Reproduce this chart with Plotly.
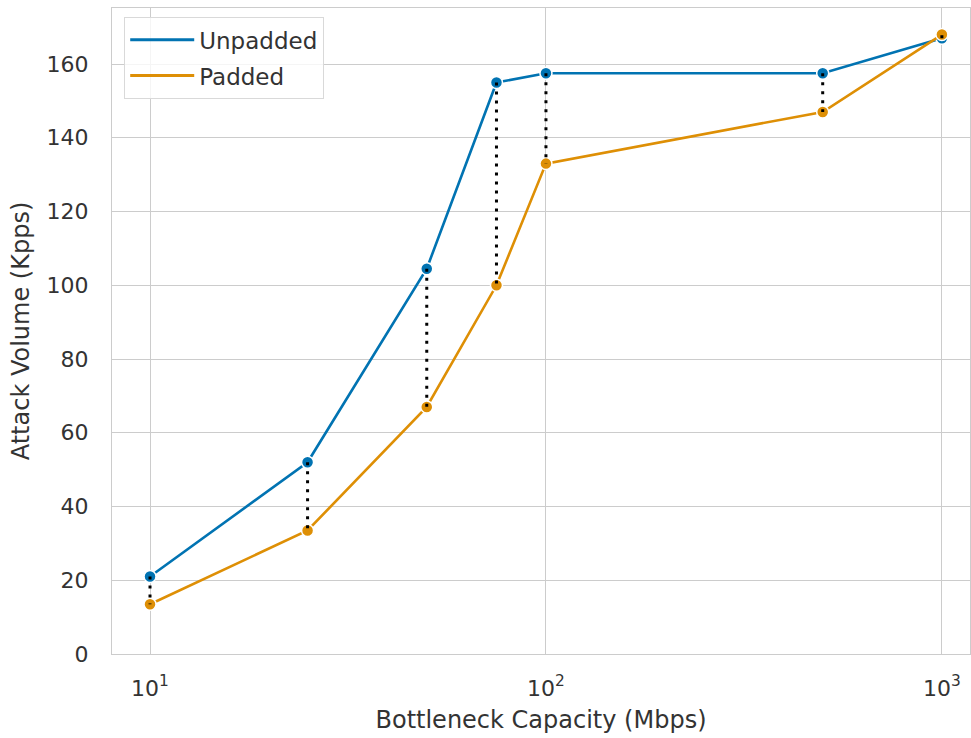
import plotly.graph_objects as go

capacity = [10, 25, 50, 75, 100, 500, 1000]
unpadded = [21, 52, 104.5, 155, 157.5, 157.5, 167]
padded = [13.5, 33.5, 67, 100, 133, 147, 168]
series_names = ["Unpadded", "Padded"]
x_tick_vals = [10, 100, 1000]
x_tick_text = ["10<sup>1</sup>", "10<sup>2</sup>", "10<sup>3</sup>"]
y_tick_vals = [0, 20, 40, 60, 80, 100, 120, 140, 160]

BLUE = "#0173B2"
ORANGE = "#DE8F05"
GRID = "#cccccc"
TEXT = "#333333"

fig = go.Figure()

for name, vals, col in [(series_names[0], unpadded, BLUE), (series_names[1], padded, ORANGE)]:
    fig.add_trace(go.Scatter(
        x=capacity, y=vals, mode="lines+markers", name=name,
        legendgroup=name, showlegend=False,
        line=dict(color=col, width=2.6),
        marker=dict(size=12, color=col, line=dict(color="white", width=1.5)),
    ))

dx, dy = [], []
for c, u, p in zip(capacity, unpadded, padded):
    dx += [c, c, None]
    dy += [u, p, None]
fig.add_trace(go.Scatter(
    x=dx, y=dy, mode="lines", showlegend=False,
    line=dict(color="black", width=3, dash="3px,6px"),
    hoverinfo="skip",
))

# legend entries (lines only, as in the reference)
for name, col in [(series_names[0], BLUE), (series_names[1], ORANGE)]:
    fig.add_trace(go.Scatter(
        x=[None], y=[None], mode="lines", name=name, legendgroup=name,
        line=dict(color=col, width=3),
    ))

fig.update_layout(
    width=971, height=738,
    margin=dict(l=112, r=1, t=8, b=84),
    paper_bgcolor="white", plot_bgcolor="white",
    font=dict(family="DejaVu Sans", size=22, color=TEXT),
    showlegend=True,
    legend=dict(
        x=0.014, y=0.986, xanchor="left", yanchor="top",
        bgcolor="rgba(255,255,255,0.8)", bordercolor="#d9d9d9", borderwidth=1.2,
        font=dict(size=23, color=TEXT),
        itemwidth=64, tracegroupgap=3,
    ),
    xaxis=dict(
        type="log", range=[0.904, 3.071],
        tickvals=x_tick_vals, ticktext=x_tick_text,
        showgrid=True, gridcolor=GRID, gridwidth=1.4,
        showline=True, linecolor=GRID, linewidth=1.4, mirror=True,
        zeroline=False, ticks="", ticklabelstandoff=14,
        title=dict(text="Bottleneck Capacity (Mbps)", font=dict(size=24, color=TEXT), standoff=11),
        tickfont=dict(size=22, color=TEXT),
    ),
    yaxis=dict(
        range=[0, 175.2], tickvals=y_tick_vals,
        showgrid=True, gridcolor=GRID, gridwidth=1.4,
        showline=True, linecolor=GRID, linewidth=1.4, mirror=True,
        zeroline=False, ticks="", ticklabelstandoff=18,
        title=dict(text="Attack Volume (Kpps)", font=dict(size=24, color=TEXT), standoff=10),
        tickfont=dict(size=22, color=TEXT),
    ),
)

fig.write_html("out.html", config={"displayModeBar": False},
               post_script="document.body.style.margin='0';")
